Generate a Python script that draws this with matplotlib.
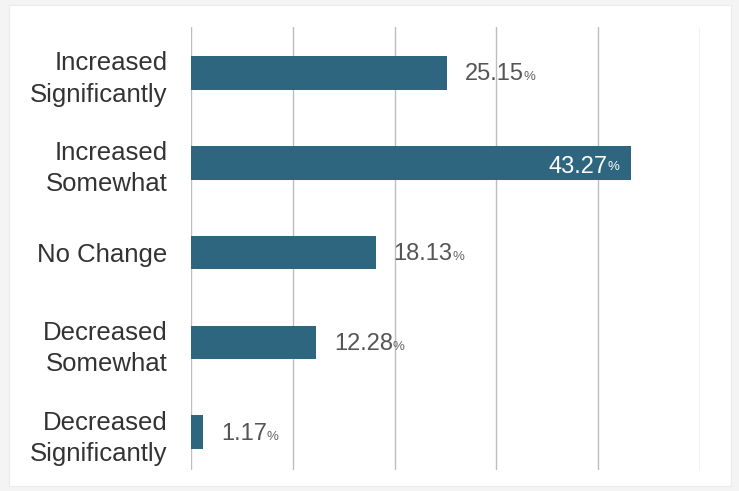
import matplotlib.pyplot as plt

# data
categories = ["Increased\nSignificantly", "Increased\nSomewhat", "No Change",
              "Decreased\nSomewhat", "Decreased\nSignificantly"]
values = [25.15, 43.27, 18.13, 12.28, 1.17]
xticks = [0, 10, 20, 30, 40, 50]

bar_color = "#2e6680"
plt.rcParams["font.family"] = ["Liberation Sans", "DejaVu Sans"]

fig = plt.figure(figsize=(7.39, 4.91), dpi=100, facecolor="#f4f4f4")
# white card behind the chart
card = fig.add_axes([9 / 739, 5 / 491, 722 / 739, 481 / 491])
card.set_facecolor("white")
card.set_xticks([])
card.set_yticks([])
for s in card.spines.values():
    s.set_color("#ececec")

ax = fig.add_axes([191 / 739, 21 / 491, 509 / 739, 443 / 491])
ax.set_facecolor("none")
pos = list(range(len(categories)))
ax.barh(pos, values, height=0.375, color=bar_color, zorder=3)
ax.set_xlim(0, 50)
ax.set_ylim(4.42, -0.51)
ax.set_xticks(xticks)
ax.set_xticklabels([])
ax.tick_params(axis="x", length=0)
ax.grid(axis="x", color="#bdbdbd", linewidth=1)
ax.set_yticks(pos)
ax.set_yticklabels(categories, fontsize=18.5, color="#333333", linespacing=1.38)
ax.tick_params(axis="y", length=0, pad=17)
for s in ax.spines.values():
    s.set_visible(False)

fig.canvas.draw()
renderer = fig.canvas.get_renderer()
for i, v in enumerate(values):
    num = f"{v:.2f}"
    if v > 40:
        pct = ax.annotate("%", (v, i), xytext=(-8.5, -5), textcoords="offset points",
                          ha="right", va="baseline", fontsize=9.5, color="white", zorder=4)
        ax.annotate(num, (0, 0), xycoords=pct, ha="right", va="baseline",
                    fontsize=17, color="white", zorder=4)
    else:
        t = ax.annotate(num, (v, i), xytext=(13, -5.5), textcoords="offset points",
                        ha="left", va="baseline", fontsize=17, color="#555555", zorder=4)
        w = t.get_window_extent(renderer).width * 72 / fig.dpi
        ax.annotate("%", (v, i), xytext=(13 + w - 0.3, -5.5), textcoords="offset points",
                    ha="left", va="baseline", fontsize=9.5, color="#666666", zorder=4)

plt.savefig("out.png", dpi=100, facecolor=fig.get_facecolor())
